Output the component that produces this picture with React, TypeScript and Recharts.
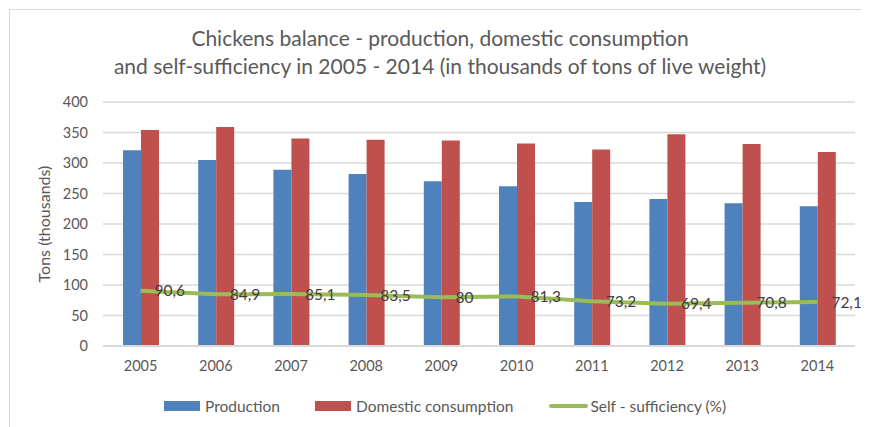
import React from 'react';
import { ComposedChart, Bar, Line, XAxis, YAxis, CartesianGrid, Legend, LabelList } from 'recharts';

const years = ['2005', '2006', '2007', '2008', '2009', '2010', '2011', '2012', '2013', '2014'];
const production = [321, 305, 289, 282, 270, 262, 236, 241, 234, 229];
const consumption = [354, 359, 340, 338, 337, 332, 322, 347, 331, 318];
const selfSufficiency = [90.6, 84.9, 85.1, 83.5, 80, 81.3, 73.2, 69.4, 70.8, 72.1];
const yTicks = [0, 50, 100, 150, 200, 250, 300, 350, 400];

const data = years.map((y, i) => ({
  year: y,
  production: production[i],
  consumption: consumption[i],
  self: selfSufficiency[i],
}));

const FONT = 'Lato, "Open Sans", sans-serif';
const TXT = '#595959';

const legendItems = [
  { label: 'Production', color: '#4F81BD', type: 'rect' },
  { label: 'Domestic consumption', color: '#C0504D', type: 'rect' },
  { label: 'Self - sufficiency (%)', color: '#9BBB59', type: 'line' },
];

const renderLegend = () => (
  <div style={{ display: 'flex', justifyContent: 'flex-start', alignItems: 'center', fontFamily: FONT, fontSize: 15.5, color: TXT, height: 18 }}>
    {legendItems.map((it, i) => (
      <div key={i} style={{ display: 'flex', alignItems: 'center', marginRight: i === 0 ? 35 : 36 }}>
        {it.type === 'rect' ? (
          <div style={{ width: 36, height: 10, background: it.color, marginRight: 5 }} />
        ) : (
          <div style={{ width: 39, height: 4, borderRadius: 2, background: it.color, marginRight: 2 }} />
        )}
        <span>{it.label}</span>
      </div>
    ))}
  </div>
);

export default function App() {
  return (
    <div style={{ position: 'relative', left: 1, top: 1, width: 860, height: 418, borderLeft: '1px solid #d9d9d9', borderTop: '1px solid #d9d9d9', background: '#fff', fontFamily: FONT }}>
      <div style={{ position: 'absolute', top: 14, left: 0, width: 860, textAlign: 'center', fontSize: 21, color: TXT, lineHeight: '28px' }}>
        <div>Chickens balance - production, domestic consumption</div>
        <div>and self-sufficiency in 2005 - 2014 (in thousands of tons of live weight)</div>
      </div>
      <ComposedChart
        width={859}
        height={417}
        data={data}
        margin={{ top: 92, right: 14, left: 0, bottom: 0 }}
        barGap={0}
        style={{ position: 'absolute', top: 0, left: 0 }}
      >
        <CartesianGrid vertical={false} stroke="#d9d9d9" strokeWidth={1.5} />
        <XAxis
          dataKey="year"
          height={63}
          tickSize={0}
          tickMargin={15}
          axisLine={{ stroke: '#d9d9d9', strokeWidth: 2 }}
          tickLine={false}
          tick={{ fill: TXT, fontSize: 14.5, fontFamily: FONT }}
        />
        <YAxis
          width={93}
          domain={[0, 400]}
          ticks={yTicks}
          interval={0}
          tickSize={0}
          tickMargin={15}
          axisLine={false}
          tickLine={false}
          tick={{ fill: TXT, fontSize: 14.5, fontFamily: FONT }}
          label={{ value: 'Tons (thousands)', angle: -90, position: 'insideLeft', offset: 34, style: { fill: TXT, fontSize: 16, fontFamily: FONT, textAnchor: 'middle' } }}
        />
        <Legend
          content={renderLegend}
          wrapperStyle={{ position: 'absolute', top: 387, left: 154, width: 700 }}
        />
        <Bar dataKey="production" name="Production" fill="#4F81BD" barSize={18} isAnimationActive={false} />
        <Bar dataKey="consumption" name="Domestic consumption" fill="#C0504D" barSize={18} isAnimationActive={false} />
        <Line
          dataKey="self"
          name="Self - sufficiency (%)"
          stroke="#9BBB59"
          strokeWidth={4}
          dot={false}
          type="linear"
          isAnimationActive={false}
        >
          <LabelList
            dataKey="self"
            position="right"
            offset={14}
            formatter={(v: number) => String(v).replace('.', ',')}
            style={{ fill: '#404040', fontSize: 15.5, fontFamily: FONT }}
          />
        </Line>
      </ComposedChart>
    </div>
  );
}
